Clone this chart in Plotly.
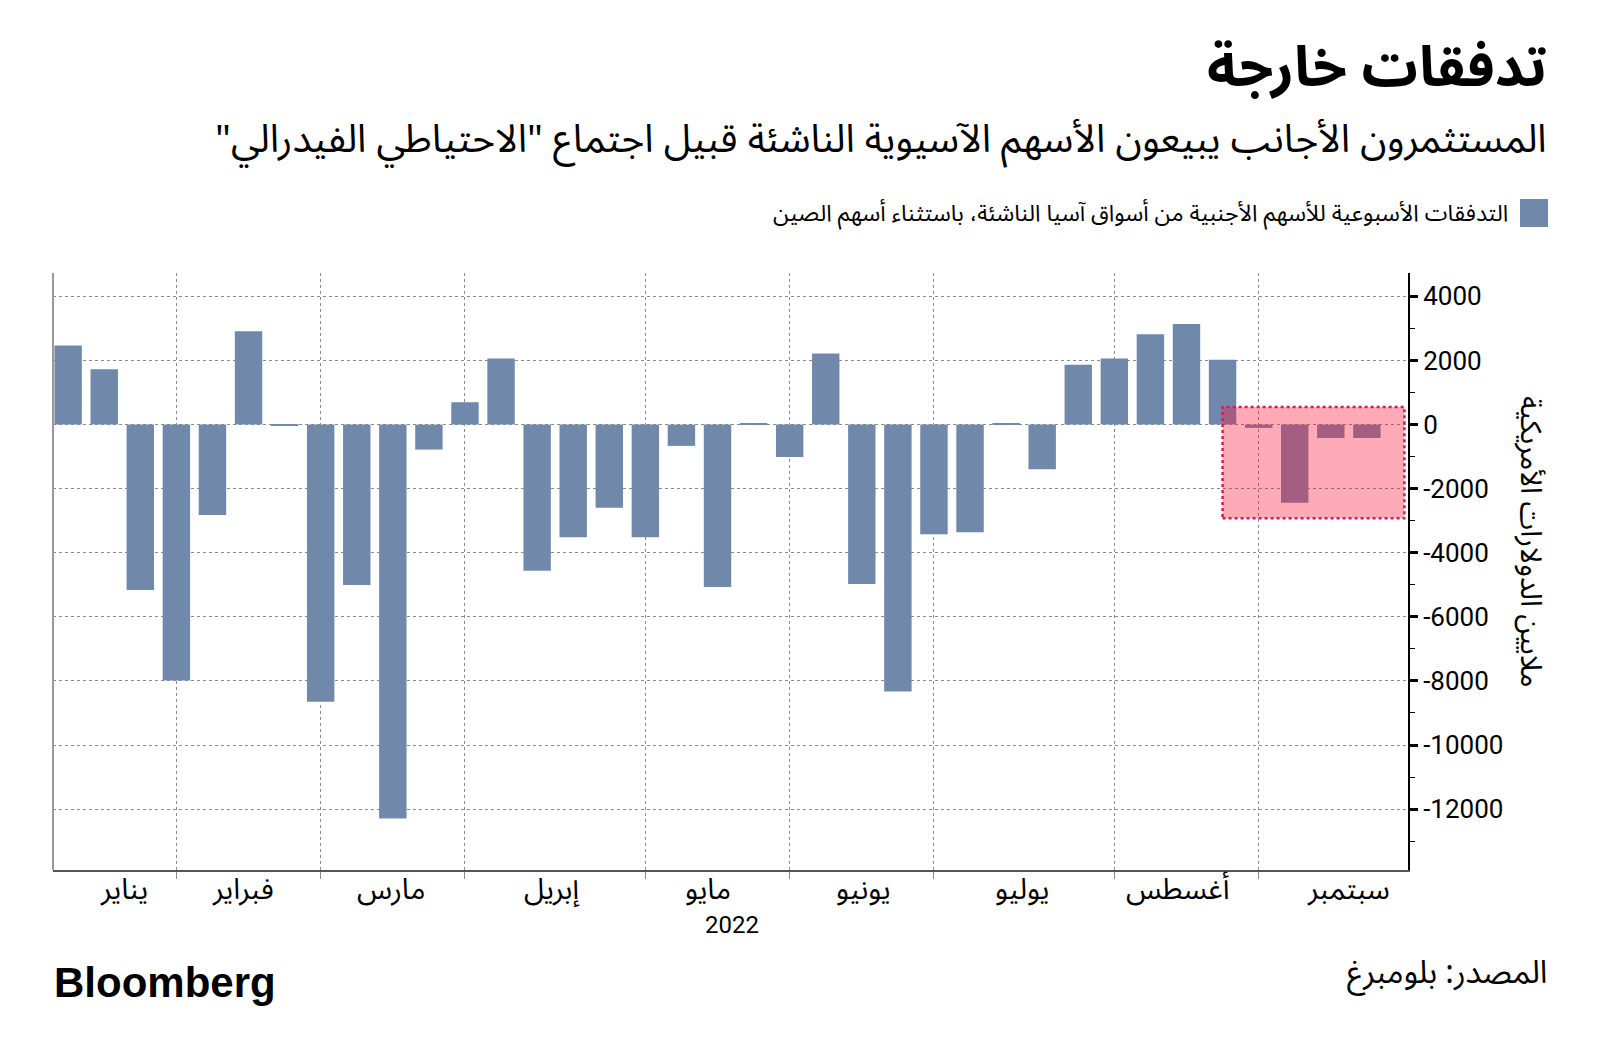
import plotly.graph_objects as go
import numpy as np

# ---------------- data ----------------
months = ["يناير", "فبراير", "مارس", "إبريل", "مايو", "يونيو", "يوليو", "أغسطس", "سبتمبر"]
weeks_per_month = [3, 4, 4, 5, 4, 4, 5, 4, 4]
flows = [2470, 1730, -5165, -7985, -2820, 2910, -30, -8650, -5006, -12294, -780,
         697, 2060, -4563, -3517, -2598, -3517, -665, -5070, 50, -1014, 2218,
         -4975, -8333, -3422, -3359, 30, -1394, 1870, 2060, 2820, 3137, 2020,
         -105, -2440, -420, -420]
y_ticks = [4000, 2000, 0, -2000, -4000, -6000, -8000, -10000, -12000]
y_tick_labels = ["4000", "2000", "0", "-2000", "-4000", "-6000", "-8000", "-10000", "-12000"]
year_label = "2022"
highlight_y = [-2926, 550]

title = "تدفقات خارجة"
subtitle = 'المستثمرون الأجانب يبيعون الأسهم الآسيوية الناشئة قبيل اجتماع "الاحتياطي الفيدرالي"\u200f'
legend_text = "التدفقات الأسبوعية للأسهم الأجنبية من أسواق آسيا الناشئة، باستثناء أسهم الصين"
y_title = "ملايين الدولارات الأمريكية"
source = "المصدر: بلومبرغ"

# ---------------- layout helpers ----------------
W, H = 1600, 1060
OFF = 8  # page body margin
PL, PR, PT, PB = 53, 1408, 273, 870   # plot area in page pixels
def px(x):
    return (x - PL) / (PR - PL)
def py(y):
    return (PB - y) / (PB - PT)

x = list(range(len(flows)))
bounds = list(np.cumsum(weeks_per_month)[:-1])
label_x = [1.55, 4.85, 8.95, 13.4, 17.75, 22.05, 26.45, 30.75, 35.5]

AR = "Noto Sans Arabic, DejaVu Sans, sans-serif"
NUM = "Roboto, DejaVu Sans, sans-serif"
bar_color = "#7089ab"

fig = go.Figure()
fig.add_trace(go.Bar(x=x, y=flows, width=0.76, marker=dict(color=bar_color, line=dict(width=0)),
                     showlegend=False, hoverinfo="y"))

fig.update_layout(
    width=W, height=H,
    margin=dict(l=PL - OFF, r=W - (PR - OFF), t=PT - OFF, b=H - (PB - OFF)),
    paper_bgcolor="white", plot_bgcolor="white",
    bargap=0.24,
    xaxis=dict(range=[-0.42, 37.14], tickvals=bounds, showticklabels=False,
               ticks="outside", ticklen=7, tickcolor="#888", tickwidth=1,
               showgrid=True, gridcolor="#8a8a8a", griddash="dot", gridwidth=1,
               showline=True, linecolor="#555", linewidth=1.5, zeroline=False),
    yaxis=dict(range=[-13900, 4730], side="right", tickvals=y_ticks, ticktext=y_tick_labels,
               ticks="outside", ticklen=8, tickwidth=2.5, tickcolor="black",
               tickfont=dict(family=NUM, size=26, color="black"),
               showgrid=True, gridcolor="#8a8a8a", griddash="dot", gridwidth=1,
               showline=True, linecolor="black", linewidth=2, zeroline=False,
               minor=dict(ticks="outside", ticklen=5, dtick=1000, tickcolor="black",
                          tickwidth=1, showgrid=False)),
)

# left spine
fig.add_shape(type="line", xref="paper", yref="paper", x0=0, x1=0, y0=0, y1=1,
              line=dict(color="#999", width=2))

# highlight box
fig.add_shape(type="rect", xref="x", yref="y", x0=bounds[-1] - 1, x1=37.04,
              y0=highlight_y[0], y1=highlight_y[1], layer="above",
              fillcolor="rgba(255,20,55,0.36)",
              line=dict(color="#e0184a", width=2.5, dash="dot"))

# month labels
for m, lx in zip(months, label_x):
    fig.add_annotation(x=lx, xref="x", y=py(889), yref="paper", text=m, showarrow=False,
                       font=dict(family=AR, size=29, color="black"), xanchor="center", yanchor="middle")
fig.add_annotation(x=18.4, xref="x", y=py(925), yref="paper", text=year_label, showarrow=False,
                   font=dict(family=NUM, size=24, color="black"), xanchor="center", yanchor="middle")

# title, subtitle
fig.add_annotation(x=px(1549), y=py(68), xref="paper", yref="paper", text="<b>" + title + "</b>",
                   showarrow=False, xanchor="right", yanchor="middle",
                   font=dict(family=AR, size=56, color="black"))
fig.add_annotation(x=px(1549), y=py(139), xref="paper", yref="paper", text=subtitle,
                   showarrow=False, xanchor="right", yanchor="middle",
                   font=dict(family=AR, size=39, color="black"))

# legend
fig.add_shape(type="rect", xref="paper", yref="paper", x0=px(1520), x1=px(1548),
              y0=py(227), y1=py(199), fillcolor=bar_color, line=dict(width=0))
fig.add_annotation(x=px(1510), y=py(213), xref="paper", yref="paper", text=legend_text,
                   showarrow=False, xanchor="right", yanchor="middle",
                   font=dict(family=AR, size=23, color="black"))

# y title
fig.add_annotation(x=px(1531), y=py(542), xref="paper", yref="paper", text=y_title,
                   showarrow=False, textangle=90, xanchor="center", yanchor="middle",
                   font=dict(family=AR, size=29, color="black"))

# footer
fig.add_annotation(x=px(52), y=py(982), xref="paper", yref="paper", text="<b>Bloomberg</b>",
                   showarrow=False, xanchor="left", yanchor="middle",
                   font=dict(family="Liberation Sans, Arial, sans-serif", size=42, color="black"))
fig.add_annotation(x=px(1549), y=py(973), xref="paper", yref="paper", text=source,
                   showarrow=False, xanchor="right", yanchor="middle",
                   font=dict(family=AR, size=32, color="black"))

fig.write_html("out.html")
